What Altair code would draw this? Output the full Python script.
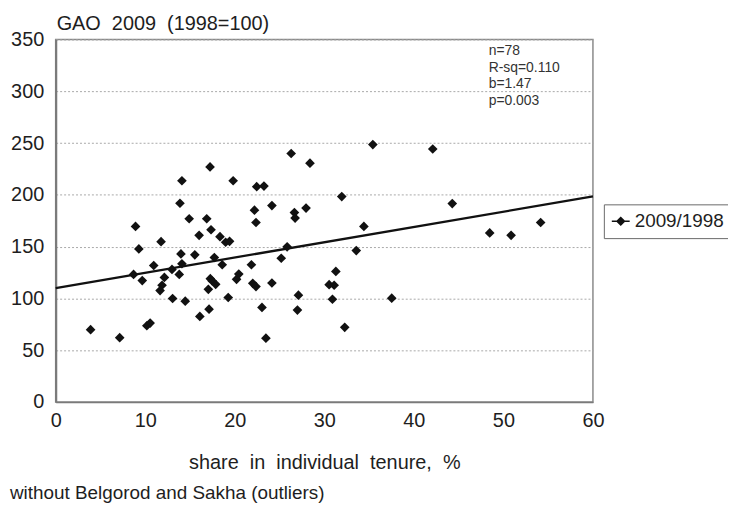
import altair as alt
import pandas as pd

# share in individual tenure, %
share = [3.90, 7.15, 10.18, 10.55, 8.92, 9.29, 8.70, 9.67, 11.77, 10.95,
         12.14, 11.88, 11.66, 13.06, 12.99, 14.10, 13.88, 13.99, 14.10, 13.80,
         14.47, 14.91, 15.54, 16.02, 17.24, 16.87, 17.35, 16.10, 17.13, 17.05,
         17.27, 17.49, 17.87, 17.72, 18.35, 18.98, 19.42, 18.60, 19.27, 19.82,
         20.45, 20.20, 21.86, 22.01, 22.37, 22.20, 22.37, 22.45, 23.26, 24.15,
         23.04, 23.48, 24.15, 25.19, 25.85, 26.30, 26.66, 26.74, 27.11, 27.00,
         27.96, 28.40, 31.95, 31.29, 30.54, 31.10, 30.91, 32.28, 33.57, 34.42,
         35.42, 37.53, 42.11, 44.29, 48.47, 50.86, 54.16]
# GAO 2009 (1998=100)
gao = [69.8, 62.1, 73.6, 76.2, 169.5, 147.8, 123.2, 117.2, 154.8, 131.8,
       120.3, 112.7, 107.6, 99.9, 128.0, 213.6, 191.9, 143.0, 133.5, 123.2,
       97.3, 176.9, 142.1, 160.9, 227.0, 176.9, 166.3, 82.6, 89.6, 108.8,
       119.1, 116.8, 113.6, 139.5, 159.6, 154.2, 155.1, 132.5, 100.9, 213.6,
       123.5, 118.4, 132.5, 114.6, 111.4, 185.2, 173.3, 207.9, 208.5, 189.6,
       91.3, 61.6, 114.9, 138.8, 149.8, 239.9, 182.9, 177.6, 103.1, 88.7,
       187.2, 230.6, 198.3, 126.1, 113.3, 112.7, 99.2, 72.1, 146.2, 169.5,
       248.5, 100.2, 244.3, 191.6, 163.2, 160.9, 173.3]
series_name = "2009/1998"

# fitted line end points
reg_share = [0, 60]
reg_gao = [110.0, 198.5]

x_ticks = [0, 10, 20, 30, 40, 50, 60]
y_ticks = [0, 50, 100, 150, 200, 250, 300, 350]

title_text = "GAO\u00a0\u00a02009\u00a0\u00a0(1998=100)"
x_title = "share\u00a0\u00a0in\u00a0\u00a0individual\u00a0\u00a0tenure,\u00a0\u00a0%"
footnote = "without Belgorod and Sakha (outliers)"
stats_lines = ["n=78", "R-sq=0.110", "b=1.47", "p=0.003"]

FONT = "Liberation Sans"
TXT = "#1e1e1e"

df = pd.DataFrame({"share": share, "gao": gao, "series": [series_name] * len(share)})
reg = pd.DataFrame({"share": reg_share, "gao": reg_gao})

legend_path = "M-1,0L1,0M0,-0.42L0.42,0L0,0.42L-0.42,0Z"

x_enc = alt.X("share:Q", scale=alt.Scale(domain=[0, 60], nice=False),
              axis=alt.Axis(values=x_ticks, title=x_title, grid=False, ticks=False,
                            labelFlush=False, labelOverlap=False, labelPadding=9,
                            titlePadding=22, domainColor="#7a7a7a", domainWidth=1.5))
y_enc = alt.Y("gao:Q", scale=alt.Scale(domain=[0, 350], nice=False),
              axis=alt.Axis(values=y_ticks, title=None, grid=True, ticks=False,
                            labelFlush=False, labelOverlap=False, labelPadding=12,
                            gridColor="#a8a8a8", gridDash=[2, 2], gridWidth=1,
                            domainColor="#7a7a7a", domainWidth=2.2))

points = alt.Chart(df).mark_point(shape="diamond", filled=True, size=95, opacity=1).encode(
    x=x_enc,
    y=y_enc,
    color=alt.Color("series:N", scale=alt.Scale(range=["#111111"]),
                    legend=alt.Legend(title=None, orient="none", legendX=552, legendY=166,
                                      symbolType=legend_path, symbolSize=324,
                                      symbolStrokeWidth=1.5, symbolStrokeColor="#111111",
                                      symbolFillColor="#111111",
                                      labelFontSize=19, labelFont=FONT, labelColor=TXT,
                                      labelOffset=4, padding=7,
                                      strokeColor="#6a6a6a", fillColor="white")),
)

line = alt.Chart(reg).mark_line(color="#111111", strokeWidth=2.3).encode(
    x=alt.X("share:Q"), y=alt.Y("gao:Q"))

title = alt.Chart(pd.DataFrame({"t": [title_text]})).mark_text(
    align="left", baseline="alphabetic", fontSize=20, font=FONT, color=TXT
).encode(x=alt.value(1), y=alt.value(-10), text="t:N")

stats = alt.Chart(pd.DataFrame({"t": ["\n".join(stats_lines)]})).mark_text(
    align="left", baseline="alphabetic", fontSize=14, font=FONT, color="#333333",
    lineBreak="\n", lineHeight=16.5
).encode(x=alt.value(436), y=alt.value(16), text="t:N")

foot = alt.Chart(pd.DataFrame({"t": [footnote]})).mark_text(
    align="left", baseline="alphabetic", fontSize=19, font=FONT, color=TXT
).encode(x=alt.value(-46), y=alt.value(463), text="t:N")

chart = alt.layer(line, points, title, stats, foot).properties(
    width=541, height=365,
    autosize=alt.AutoSizeParams(type="none"),
    padding={"left": 48, "top": 30, "right": 136, "bottom": 100},
    background="white",
).configure_view(
    stroke="#8a8a8a", strokeWidth=1.5
).configure_axis(
    labelFont=FONT, labelFontSize=20, labelColor=TXT,
    titleFont=FONT, titleFontSize=20, titleColor=TXT, titleFontWeight="normal",
)

chart.save("out.html", embed_options={"renderer": "svg", "actions": False})
